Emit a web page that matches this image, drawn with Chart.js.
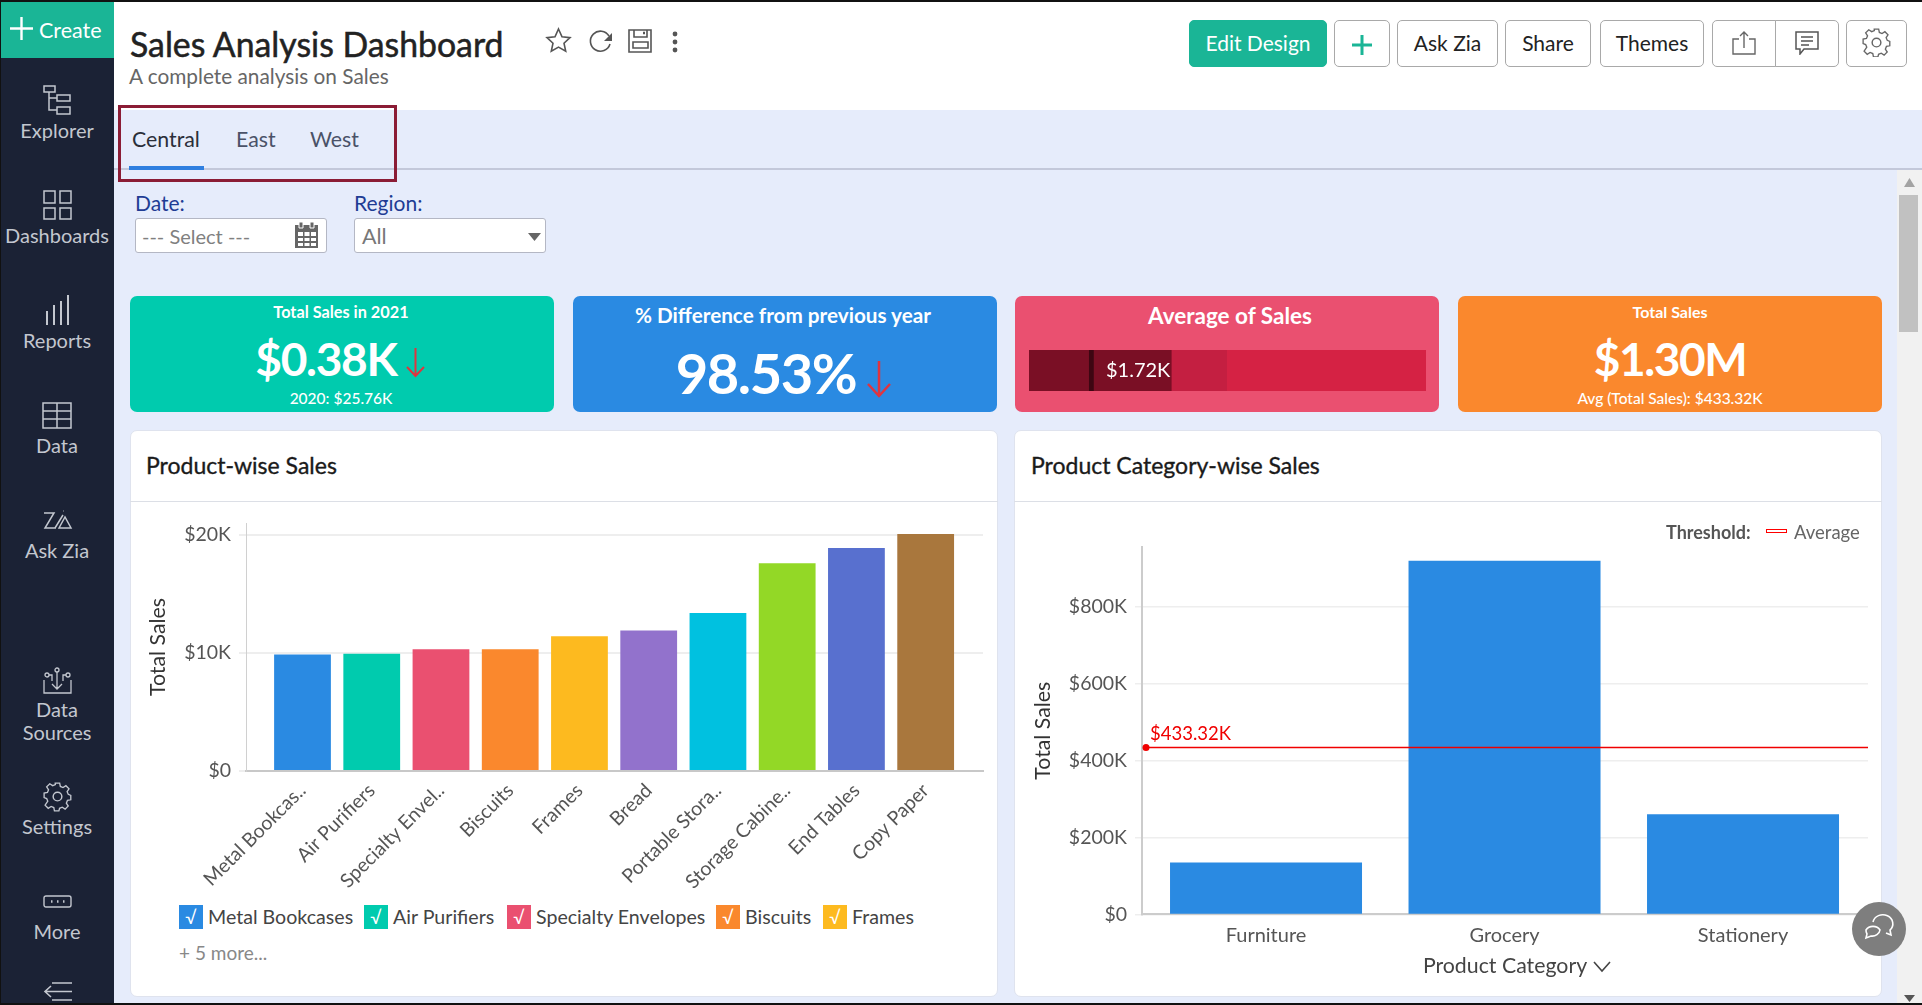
<!DOCTYPE html>
<html>
<head>
<meta charset="utf-8">
<title>Sales Analysis Dashboard</title>
<script src="https://cdn.jsdelivr.net/npm/chart.js@4"></script>
<style>
html, body { margin: 0; padding: 0; width: 1922px; height: 1005px; overflow: hidden; background: #fff; font-family: Lato, sans-serif; }
body * { box-sizing: border-box; }
canvas { position: absolute; }
.box { position: absolute; }
.t { position: absolute; white-space: nowrap; line-height: 1; transform: translateY(-50%); }
.c { transform: translate(-50%, -50%); }
.ic { position: absolute; fill: none; overflow: visible; }
.side { color: #c3c7cf; font-size: 20px; }
.btn { position: absolute; top: 20px; height: 47px; padding-bottom: 2px; background: #fff; border: 1.5px solid #a9a9a9; border-radius: 5px; display: flex; align-items: center; justify-content: center; font-size: 21px; color: #222; }
.kpi { position: absolute; top: 296px; height: 116px; width: 424px; border-radius: 7px; }
.w { color: #fff; }
.panel { position: absolute; top: 430px; height: 567px; background: #fff; border: 1px solid #dfe3ee; border-radius: 7px; }
.rule { position: absolute; top: 501px; height: 1px; background: #dcdfe6; }
.panel-title { font-size: 23px; color: #1a1a1a; -webkit-text-stroke: 0.35px #1a1a1a; }
.lg-box { position: absolute; top: 905px; width: 24px; height: 24px; color: #fff; font-size: 18px; line-height: 24px; text-align: center; }
.lg-text { font-size: 19.6px; color: #444; top: 917px; }
</style>
</head>
<body>

<!-- fondo general -->
<div class="box" style="left:114px;top:110px;width:1808px;height:895px;background:#e6ecfb"></div>
<div class="box" style="left:114px;top:168px;width:1808px;height:2px;background:#c3c8da"></div>

<!-- barra lateral -->
<div class="box" style="left:0;top:0;width:114px;height:1005px;background:#1b2235"></div>
<div class="box" style="left:0;top:2px;width:114px;height:56px;background:#1ab596"></div>
<svg class="ic" style="left:10px;top:17px" width="23" height="23" stroke="#fff" stroke-width="2.4"><path d="M11.5 0V23M0 11.5H23"/></svg>
<div class="t w" style="left:39px;top:31px;font-size:21.5px">Create</div>

<svg class="ic" style="left:43px;top:85px" width="28" height="30" stroke="#c3c7cf" stroke-width="1.5"><path d="M1 1h11v6H1zM14 10h13v6H14zM14 22h13v7H14zM6 7v18h8M6 13h8"/></svg>
<div class="t c side" style="left:57px;top:130px">Explorer</div>
<svg class="ic" style="left:43px;top:190px" width="29" height="30" stroke="#c3c7cf" stroke-width="1.5"><path d="M1 1h11v12H1zM17 1h11v12H17zM1 18h11v11H1zM17 18h11v11H17z"/></svg>
<div class="t c side" style="left:57px;top:235px">Dashboards</div>
<svg class="ic" style="left:45px;top:295px" width="25" height="30" stroke="#c3c7cf" stroke-width="2"><path d="M2 30V16M9 30V10M16 30V6M23 30V0"/></svg>
<div class="t c side" style="left:57px;top:340px">Reports</div>
<svg class="ic" style="left:42px;top:402px" width="30" height="27" stroke="#c3c7cf" stroke-width="1.5"><path d="M1 1h28v25H1zM1 9h28M1 17h28M15 1v25"/></svg>
<div class="t c side" style="left:57px;top:445px">Data</div>
<svg class="ic" style="left:43px;top:510px" width="29" height="20" stroke="#c3c7cf" stroke-width="1.5"><path d="M1 3h10L2 18h11M12 18L20 5M16 18l6-11 6 11zM20 1h.5"/></svg>
<div class="t c side" style="left:57px;top:550px">Ask Zia</div>
<svg class="ic" style="left:43px;top:667px" width="29" height="27" stroke="#c3c7cf" stroke-width="1.3"><path d="M1 13v13h27V13M14 5v17M9 17l5 5 5-5M6 8h3v6M23 8h-3v6"/><circle cx="14" cy="3" r="2"/><circle cx="4" cy="8" r="2"/><circle cx="25" cy="8" r="2"/></svg>
<div class="t c side" style="left:57px;top:709px">Data</div>
<div class="t c side" style="left:57px;top:732px">Sources</div>
<svg class="ic" style="left:43px;top:782px" width="29" height="29" viewBox="0 0 24 24" stroke="#c3c7cf" stroke-width="1.2"><circle cx="12" cy="12" r="3.6"/><path d="M10 1h4l.6 3 2.4 1 2.6-1.7 2.8 2.8L20.7 8.7l1 2.4 2.3.9v4l-3 .6-1 2.4 1.7 2.6-2.8 2.8-2.6-1.7-2.4 1-.6 2.3h-4l-.6-3-2.4-1-2.6 1.7-2.8-2.8L3.3 17.300l-1-2.400L0 14v-4l3-.6 1-2.400L2.300 4.400l2.800-2.800L7.700 3.300l2.400-1z" transform="scale(.92) translate(1 0)"/></svg>
<div class="t c side" style="left:57px;top:826px">Settings</div>
<svg class="ic" style="left:43px;top:895px" width="29" height="13" stroke="#c3c7cf" stroke-width="1.4"><rect x="1" y="1" width="27" height="11" rx="2"/><path d="M8 6.500h1.500M14 6.500h1.500M20 6.500h1.500" stroke-width="2.500"/></svg>
<div class="t c side" style="left:57px;top:931px">More</div>
<svg class="ic" style="left:44px;top:982px" width="28" height="19" stroke="#c3c7cf" stroke-width="1.6"><path d="M8 1h20M1 9.500h27M8 18h20M7 4l-6 5.500 6 5.500"/></svg>

<!-- cabecera -->
<div class="t" style="left:130px;top:45px;font-size:33.8px;color:#222;-webkit-text-stroke:0.5px #222">Sales Analysis Dashboard</div>
<div class="t" style="left:129px;top:75.500px;font-size:20.8px;color:#666">A complete analysis on Sales</div>
<svg class="ic" style="left:546px;top:28px" width="25" height="24" viewBox="0 0 25 24" stroke="#555" stroke-width="1.6"><path d="M12.500 1l3.500 7.800 8 .9-6 5.500 1.700 8-7.200-4.100-7.200 4.100 1.700-8-6-5.500 8-.9z"/></svg>
<svg class="ic" style="left:589px;top:30px" width="24" height="22" stroke="#555" stroke-width="1.6"><path d="M20 6A10 10 0 1 0 21 14"/><path d="M23 3v8h-8z" fill="#555" stroke="none"/></svg>
<svg class="ic" style="left:628px;top:29px" width="24" height="24" stroke="#555" stroke-width="1.6"><path d="M1 1h22v22H1zM6 1v7h13V1M5 13h15v6H5z"/><path d="M15 4h2" stroke-width="2.500"/></svg>
<svg class="ic" style="left:672px;top:31px" width="6" height="22" fill="#555"><circle cx="3" cy="3" r="2.400" fill="#555"/><circle cx="3" cy="11" r="2.400" fill="#555"/><circle cx="3" cy="19" r="2.400" fill="#555"/></svg>

<div class="btn" style="left:1189px;width:138px;background:#1ab596;border-color:#1ab596;color:#fff">Edit Design</div>
<div class="btn" style="left:1334px;width:56px"><svg width="20" height="20" style="margin-top:5px" stroke="#1ab596" stroke-width="3"><path d="M10 0V20M0 10H20"/></svg></div>
<div class="btn" style="left:1397px;width:101px">Ask Zia</div>
<div class="btn" style="left:1505px;width:86px">Share</div>
<div class="btn" style="left:1600px;width:104px">Themes</div>
<div class="btn" style="left:1712px;width:64px;border-radius:5px 0 0 5px"><svg width="24" height="24" fill="none" stroke="#666" stroke-width="1.400"><path d="M7 8H1v15h22V8h-6M12 17V1M8 5l4-4 4 4"/></svg></div>
<div class="btn" style="left:1775px;width:64px;border-radius:0 5px 5px 0"><svg width="24" height="24" fill="none" stroke="#555" stroke-width="1.500"><path d="M1 1h22v17H9l-4 5v-5H1zM6 6h12M6 10h12M6 14h8"/></svg></div>
<div class="btn" style="left:1846px;width:61px"><svg width="29" height="29" viewBox="0 0 24 24" fill="none" stroke="#666" stroke-width="1.200"><circle cx="12" cy="12" r="3.600"/><path d="M10 1h4l.6 3 2.400 1 2.600-1.700 2.800 2.800L20.700 8.700l1 2.400 2.300.9v4l-3 .6-1 2.400 1.700 2.600-2.800 2.800-2.600-1.700-2.400 1-.6 2.300h-4l-.6-3-2.400-1-2.600 1.700-2.800-2.800L3.300 17.300l-1-2.400L0 14v-4l3-.6 1-2.400L2.300 4.400l2.800-2.800L7.700 3.300l2.400-1z" transform="scale(.92) translate(1 0)"/></svg></div>

<!-- pestañas -->
<div class="t" style="left:132px;top:140px;font-size:21.3px;color:#2b2f3a">Central</div>
<div class="t" style="left:236px;top:140px;font-size:21.3px;color:#4a5268">East</div>
<div class="t" style="left:310px;top:140px;font-size:21.3px;color:#4a5268">West</div>
<div class="box" style="left:129px;top:166px;width:75px;height:4px;background:#2f7fe0"></div>
<div class="box" style="left:118px;top:105px;width:279px;height:77px;border:3px solid #8b1c35"></div>

<!-- filtros -->
<div class="t" style="left:135px;top:202px;font-size:21px;color:#1f3c94">Date:</div>
<div class="t" style="left:354px;top:202px;font-size:21px;color:#1f3c94">Region:</div>
<div class="box" style="left:135px;top:218px;width:192px;height:35px;background:#fff;border:1px solid #b4b7c4;border-radius:3px"></div>
<div class="t" style="left:142px;top:236px;font-size:20px;color:#808080">--- Select ---</div>
<svg class="ic" style="left:294px;top:222px" width="25" height="26"><path d="M1 3h23v23H1z" fill="#666"/><path d="M5 0h4v6H5zM16 0h4v6h-4z" fill="#666" stroke="#fff"/><path d="M4 10h5v4H4zM10.500 10h5v4h-5zM17 10h5v4h-5zM4 16h5v3H4zM10.500 16h5v3h-5zM17 16h5v3h-5zM4 21h5v3H4zM10.500 21h5v3h-5zM17 21h5v3h-5z" fill="#fff"/></svg>
<div class="box" style="left:354px;top:218px;width:192px;height:35px;background:#fff;border:1px solid #b4b7c4;border-radius:3px"></div>
<div class="t" style="left:362px;top:237px;font-size:21.500px;color:#777">All</div>
<svg class="ic" style="left:528px;top:233px" width="13" height="8"><path d="M0 0h13L6.500 8z" fill="#666"/></svg>

<!-- tarjetas KPI -->
<div class="kpi" style="left:130px;background:#00cbae"></div>
<div class="t c w" style="left:341px;top:312px;font-size:16.3px;font-weight:700">Total Sales in 2021</div>
<div class="t c w" style="left:326px;top:359px;font-size:46px;font-weight:700;letter-spacing:-1.3px">$0.38K</div>
<svg class="ic" style="left:406px;top:348px" width="19" height="29" stroke="#e0343f" stroke-width="2"><path d="M9.500 0V28M1 19l8.500 9 8.500-9"/></svg>
<div class="t c w" style="left:341px;top:399px;font-size:15.500px;font-weight:500">2020: $25.76K</div>

<div class="kpi" style="left:573px;background:#2a8ae2"></div>
<div class="t c w" style="left:783px;top:315px;font-size:20.7px;font-weight:700">% Difference from previous year</div>
<div class="t c w" style="left:766px;top:373px;font-size:56px;font-weight:700;letter-spacing:-1.45px">98.53%</div>
<svg class="ic" style="left:867px;top:361px" width="24" height="36" stroke="#e0343f" stroke-width="2.500"><path d="M12 0V35M1 23l11 12 11-12"/></svg>

<div class="kpi" style="left:1015px;background:#ea5070"></div>
<div class="t c w" style="left:1230px;top:316px;font-size:22.500px;font-weight:700">Average of Sales</div>
<canvas id="bulletChart" width="397" height="41" style="left:1029px;top:350px"></canvas>
<div class="t w" style="left:1106px;top:369px;font-size:20px">$1.72K</div>

<div class="kpi" style="left:1458px;background:#fa882d"></div>
<div class="t c w" style="left:1670px;top:312px;font-size:16px;font-weight:700">Total Sales</div>
<div class="t c w" style="left:1670px;top:359px;font-size:46px;font-weight:700;letter-spacing:-1.4px">$1.30M</div>
<div class="t c w" style="left:1670px;top:399px;font-size:15.500px;font-weight:500">Avg (Total Sales): $433.32K</div>

<!-- paneles -->
<div class="panel" style="left:130px;width:868px"></div>
<div class="rule" style="left:130px;width:868px"></div>
<div class="t panel-title" style="left:146px;top:465px">Product-wise Sales</div>
<canvas id="productChart" width="850" height="400" style="left:145px;top:503px"></canvas>
<div id="productLegend"></div>
<div class="t" style="left:179px;top:952px;font-size:19px;color:#888">+ 5 more...</div>

<div class="panel" style="left:1014px;width:868px"></div>
<div class="rule" style="left:1014px;width:868px"></div>
<div class="t panel-title" style="left:1031px;top:465px">Product Category-wise Sales</div>
<canvas id="categoryChart" width="850" height="478" style="left:1030px;top:503px"></canvas>
<div class="t" style="left:1666px;top:532px;font-size:18px;font-weight:700;color:#555">Threshold:</div>
<div class="box" style="left:1766px;top:529px;width:21px;height:4px;border:1px solid #f00;background:#fff"></div>
<div class="t" style="left:1794px;top:532px;font-size:18.500px;color:#666">Average</div>
<svg class="ic" style="left:1593px;top:961px" width="18" height="11" stroke="#444" stroke-width="1.600"><path d="M1 1l8 9 8-9"/></svg>

<!-- scrollbar y burbuja -->
<div class="box" style="left:1897px;top:170px;width:25px;height:835px;background:#f1f1f1"></div>
<div class="box" style="left:1899px;top:195px;width:19px;height:137px;background:#c1c1c1"></div>
<svg class="ic" style="left:1904px;top:178px" width="11" height="9"><path d="M0 9h11L5.500 0z" fill="#a3a3a3"/></svg>
<svg class="ic" style="left:1904px;top:995px" width="11" height="7"><path d="M0 0h11L5.500 7z" fill="#555"/></svg>
<div class="box" style="left:1852px;top:902px;width:54px;height:54px;border-radius:50%;background:#7e7e7e"></div>
<svg class="ic" style="left:1864px;top:914px" width="30" height="30" stroke="#fff" stroke-width="1.600"><path d="M9 8a10 9 0 1 1 17 8l1 5-5-2"/><path d="M2 16a8 7 0 0 1 14 0 8 7 0 0 1-9 6l-5 2 1-4a7 7 0 0 1-1-4z"/></svg>

<!-- marco de la captura -->
<div class="box" style="left:0;top:0;width:1922px;height:2px;background:#111"></div>
<div class="box" style="left:0;top:0;width:1px;height:1005px;background:#111"></div>
<div class="box" style="left:0;top:1003px;width:1922px;height:2px;background:#111"></div>

<script>
// Datos
const productTicks = ['Metal Bookcas..', 'Air Purifiers', 'Specialty Envel..', 'Biscuits', 'Frames', 'Bread', 'Portable Stora..', 'Storage Cabine..', 'End Tables', 'Copy Paper'];
const productSales = [9870, 9940, 10310, 10310, 11430, 11900, 13400, 17600, 18900, 20090];
const productColors = ['#2a8ae2', '#00cbae', '#ea5070', '#fa882d', '#fdba1f', '#9272cc', '#00c1e0', '#93d826', '#5870cf', '#a9773d'];
const productAxisTicks = [0, 10000, 20000];
const legendNames = ['Metal Bookcases', 'Air Purifiers', 'Specialty Envelopes', 'Biscuits', 'Frames'];

const categoryTicks = ['Furniture', 'Grocery', 'Stationery'];
const categorySales = [135000, 918000, 260000];
const categoryAxisTicks = [0, 200000, 400000, 600000, 800000];
const averageSales = 433320;

const bulletBands = [720, 60, 940, 670, 2410];
const bulletColors = ['#7a0f25', '#3d0612', '#7a0f25', '#c41f41', '#d52244'];

Chart.defaults.font.family = 'Lato, sans-serif';
Chart.defaults.animation = false;

function money(v) {
    return v === 0 ? '$0' : '$' + (v / 1000) + 'K';
}

function fixedTicks(values) {
    return scale => { scale.ticks = values.map(v => ({ value: v })); };
}

// Leyenda de productos
const legendLeft = [179, 364, 507, 716, 823];
const legendTextLeft = [208, 393, 536, 745, 852];
const legendEl = document.getElementById('productLegend');
legendNames.forEach((name, i) => {
    const b = document.createElement('div');
    b.className = 'lg-box';
    b.style.left = legendLeft[i] + 'px';
    b.style.background = productColors[i];
    b.textContent = '\u221A';
    legendEl.appendChild(b);
    const t = document.createElement('div');
    t.className = 't lg-text';
    t.style.left = legendTextLeft[i] + 'px';
    t.textContent = name;
    legendEl.appendChild(t);
});

// Barras por producto
new Chart(document.getElementById('productChart'), {
    type: 'bar',
    data: {
        labels: productTicks,
        datasets: [{
            data: productSales.map((v, i) => ({ x: i, y: v })),
            backgroundColor: productColors,
            barPercentage: 0.82,
            categoryPercentage: 1
        }]
    },
    options: {
        responsive: false,
        layout: { padding: { top: 20, right: 12 } },
        plugins: { legend: { display: false }, tooltip: { enabled: false } },
        scales: {
            x: {
                type: 'linear',
                offset: false,
                min: -0.816,
                max: 9.828,
                afterFit: s => { s.height = 132; },
                grid: { display: false, drawTicks: false },
                border: { color: '#c8c8c8', width: 2 },
                ticks: {
                    stepSize: 1,
                    includeBounds: false,
                    autoSkip: false,
                    minRotation: 45,
                    maxRotation: 45,
                    padding: 8,
                    color: '#555',
                    font: { size: 19.5 },
                    callback: v => productTicks[v]
                }
            },
            y: {
                min: 0,
                max: 21017,
                afterBuildTicks: fixedTicks(productAxisTicks),
                afterFit: s => { s.width = 101; },
                grid: { color: '#eeeeee', lineWidth: 2, tickLength: 7 },
                border: { color: '#d0d0d0', width: 1 },
                title: { display: true, text: 'Total Sales', color: '#333', font: { size: 21.3 }, padding: 0 },
                ticks: {
                    padding: 8,
                    color: '#555',
                    font: { size: 19.5 },
                    callback: money
                }
            }
        }
    }
});

// Línea de umbral con su etiqueta
const thresholdLine = {
    id: 'thresholdLine',
    afterDatasetsDraw(chart) {
        const { ctx, chartArea, scales } = chart;
        const y = scales.y.getPixelForValue(averageSales);
        ctx.save();
        ctx.strokeStyle = '#f00000';
        ctx.fillStyle = '#f00000';
        ctx.lineWidth = 1.5;
        ctx.beginPath();
        ctx.moveTo(chartArea.left + 4, y);
        ctx.lineTo(chartArea.right, y);
        ctx.stroke();
        ctx.beginPath();
        ctx.arc(chartArea.left + 4, y, 3.5, 0, Math.PI * 2);
        ctx.fill();
        ctx.font = '18.5px Lato';
        ctx.textBaseline = 'middle';
        ctx.fillText('$433.32K', chartArea.left + 8, y - 13);
        ctx.restore();
    }
};

// Barras por categoría
new Chart(document.getElementById('categoryChart'), {
    type: 'bar',
    data: {
        labels: categoryTicks,
        datasets: [{
            data: categorySales.map((v, i) => ({ x: i, y: v })),
            backgroundColor: '#2a8ae2',
            barPercentage: 0.805,
            categoryPercentage: 1
        }]
    },
    plugins: [thresholdLine],
    options: {
        responsive: false,
        layout: { padding: { top: 44, right: 12, bottom: 2 } },
        plugins: { legend: { display: false }, tooltip: { enabled: false } },
        scales: {
            x: {
                type: 'linear',
                offset: false,
                min: -0.52,
                max: 2.524,
                afterFit: s => { s.height = 64.6; },
                grid: { display: false, drawTicks: false },
                border: { color: '#cccccc', width: 2 },
                title: { display: true, text: 'Product Category', color: '#444', font: { size: 21.3 }, padding: 0 },
                ticks: {
                    stepSize: 1,
                    includeBounds: false,
                    autoSkip: false,
                    maxRotation: 0,
                    padding: 9,
                    color: '#555',
                    font: { size: 20 },
                    callback: v => categoryTicks[v]
                }
            },
            y: {
                min: 0,
                max: 954000,
                afterBuildTicks: fixedTicks(categoryAxisTicks),
                afterFit: s => { s.width = 112; },
                grid: { color: '#eeeeee', lineWidth: 1.5, tickLength: 7 },
                border: { color: '#cccccc', width: 2 },
                title: { display: true, text: 'Total Sales', color: '#333', font: { size: 21.3 }, padding: 0 },
                ticks: {
                    padding: 8,
                    color: '#555',
                    font: { size: 19.5 },
                    callback: money
                }
            }
        }
    }
});

// Indicador de la tarjeta "Average of Sales"
new Chart(document.getElementById('bulletChart'), {
    type: 'bar',
    data: {
        labels: ['Average of Sales'],
        datasets: bulletBands.map((v, i) => ({
            data: [v],
            backgroundColor: bulletColors[i],
            barPercentage: 1,
            categoryPercentage: 1
        }))
    },
    options: {
        indexAxis: 'y',
        responsive: false,
        plugins: { legend: { display: false }, tooltip: { enabled: false } },
        scales: {
            x: { display: false, stacked: true, min: 0, max: 4800 },
            y: { display: false, stacked: true }
        }
    }
});
</script>
</body>
</html>
